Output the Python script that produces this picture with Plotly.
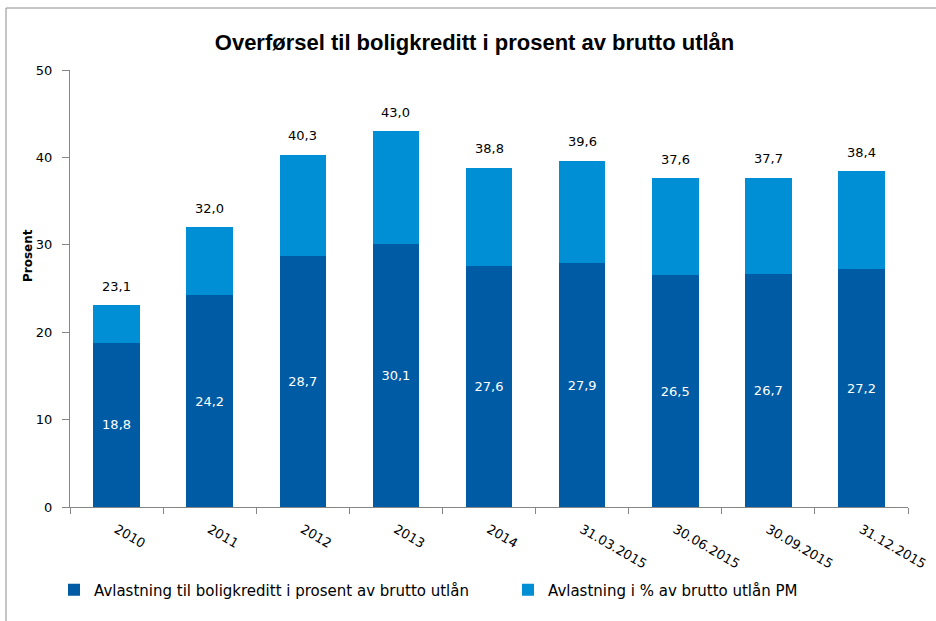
import plotly.graph_objects as go

categories = ["2010", "2011", "2012", "2013", "2014", "31.03.2015", "30.06.2015", "30.09.2015", "31.12.2015"]
boligkreditt = [18.8, 24.2, 28.7, 30.1, 27.6, 27.9, 26.5, 26.7, 27.2]
totals = [23.1, 32.0, 40.3, 43.0, 38.8, 39.6, 37.6, 37.7, 38.4]
pm = [round(t - b, 1) for t, b in zip(totals, boligkreditt)]
y_ticks = [0, 10, 20, 30, 40, 50]

def fmt(v):
    return f"{v:.1f}".replace(".", ",")

DARK = "#005BA5"
LIGHT = "#008ED4"
NUMFONT = "DejaVu Sans"
TXTFONT = "Liberation Sans"

fig = go.Figure()
fig.add_trace(go.Bar(
    x=categories, y=boligkreditt, name="Avlastning til boligkreditt i prosent av brutto utlån",
    marker=dict(color=DARK, line=dict(width=0)),
    text=[fmt(v) for v in boligkreditt], textposition="inside", insidetextanchor="middle",
    textfont=dict(family=NUMFONT, size=13, color="white"), textangle=0,
    legend="legend", showlegend=True,
))
fig.add_trace(go.Bar(
    x=categories, y=pm, name="Avlastning i % av brutto utlån PM",
    marker=dict(color=LIGHT, line=dict(width=0)),
    legend="legend2", showlegend=True,
))

annotations = [
    dict(x=i, y=t, xref="x", yref="y", text=fmt(t), showarrow=False, yanchor="middle",
         yshift=19, font=dict(family=NUMFONT, size=13, color="black"))
    for i, t in enumerate(totals)
]

L, R, T, B = 70, 28, 70, 114
W, H = 936, 621
pw, ph = W - L - R, H - T - B
x0 = (6 - L) / pw
y1 = 1 + (T - 8) / ph
yb = -(B) / ph
xr = 1 + R / pw

annotations.append(dict(
    x=(28 - L) / pw, y=(H - B - 256) / ph, xref="paper", yref="paper", text="<b>Prosent</b>",
    textangle=-90, showarrow=False, xanchor="center", yanchor="middle",
    font=dict(family=NUMFONT, size=12, color="black"),
))

legend_common = dict(orientation="h", xanchor="left", y=-0.152, yanchor="top",
                     font=dict(family=NUMFONT, size=15, color="black"), itemwidth=30,
                     bgcolor="rgba(0,0,0,0)", visible=True)

fig.update_layout(
    width=W, height=H, showlegend=True,
    barmode="stack", bargap=0.5,
    margin=dict(l=L, r=R, t=T, b=B, autoexpand=False),
    plot_bgcolor="white", paper_bgcolor="white",
    title=dict(text="<b>Overførsel til boligkreditt i prosent av brutto utlån</b>",
               x=0.507, xanchor="center", y=1 - 42 / H, yanchor="middle",
               font=dict(family=TXTFONT, size=22, color="black")),
    xaxis=dict(
        type="category", range=[-0.5, len(categories) - 0.5], tickangle=30, tickson="boundaries",
        ticks="outside", ticklen=6, ticklabelstandoff=9,
        tickcolor="#868686", showline=True, linecolor="#868686", linewidth=1, automargin=False,
        tickfont=dict(family=NUMFONT, size=13, color="black"), showgrid=False,
    ),
    yaxis=dict(
        range=[0, 50], tickvals=y_ticks, ticks="outside", ticklen=7, tickcolor="#868686",
        showline=True, linecolor="#868686", linewidth=1, showgrid=False, zeroline=False,
        automargin=False, ticklabelstandoff=7,
        tickfont=dict(family=NUMFONT, size=13, color="black"),
    ),
    legend=dict(x=(54 - L) / pw, **legend_common),
    legend2=dict(x=(508 - L) / pw, **legend_common),
    annotations=annotations,
    shapes=[
        dict(type="line", xref="paper", yref="paper", x0=x0, x1=x0, y0=yb, y1=y1,
             line=dict(color="#8c8c8c", width=1)),
        dict(type="line", xref="paper", yref="paper", x0=x0, x1=xr, y0=y1, y1=y1,
             line=dict(color="#8c8c8c", width=1)),
    ],
)

fig.write_html("out.html", config={"displayModeBar": False})
with open("out.html", "r", encoding="utf-8") as f:
    html = f.read()
html = html.replace("<head>", "<head><style>body{margin:0;}</style>", 1)
with open("out.html", "w", encoding="utf-8") as f:
    f.write(html)
